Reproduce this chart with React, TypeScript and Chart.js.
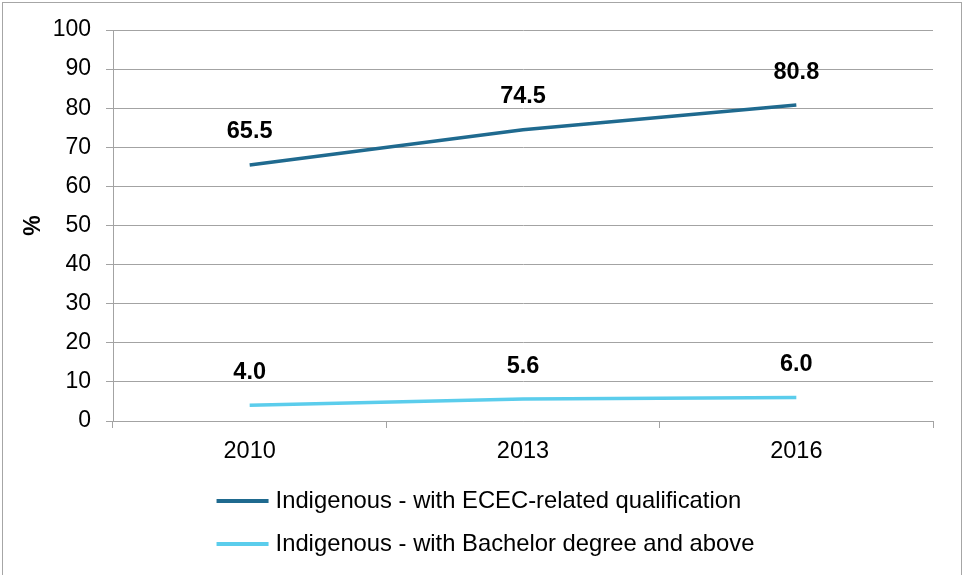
import React, { useEffect, useRef } from "react";
import { Chart, registerables } from "chart.js";

Chart.register(...registerables);

// Survey years on the category axis
const years = ["2010", "2013", "2016"];

// Share of Indigenous ECEC workers (%)
const ececQualified = [65.5, 74.5, 80.8];
const bachelorAndAbove = [4.0, 5.6, 6.0];

const seriesNames = [
  "Indigenous - with ECEC-related qualification",
  "Indigenous - with Bachelor degree and above",
];
const seriesColors = ["#1F6A8F", "#5BCDEC"];

const yMin = 0;
const yMax = 100;
const yStep = 10;

const FONT = "'Liberation Sans', Arial, Helvetica, sans-serif";
const GRID = "#A3A3A3";
const W = 963;
const H = 575;

// Bold value above each point
const valueLabels = {
  id: "valueLabels",
  afterDatasetsDraw(chart: any) {
    const ctx = chart.ctx;
    ctx.save();
    ctx.font = `bold 23.5px ${FONT}`;
    ctx.fillStyle = "#000";
    ctx.textAlign = "center";
    ctx.textBaseline = "middle";
    chart.data.datasets.forEach((ds: any, di: number) => {
      const meta = chart.getDatasetMeta(di);
      meta.data.forEach((pt: any, i: number) => {
        ctx.fillText(Number(ds.data[i]).toFixed(1), pt.x, pt.y - 33);
      });
    });
    ctx.restore();
  },
};

// Stacked legend below the axis, plus the outer frame
const bottomLegend = {
  id: "bottomLegend",
  afterDraw(chart: any) {
    const ctx = chart.ctx;
    const area = chart.chartArea;
    ctx.save();
    ctx.font = `23.8px ${FONT}`;
    const lineLen = 52;
    const gap = 7;
    const textW = Math.max(
      ...chart.data.datasets.map((d: any) => ctx.measureText(d.label).width)
    );
    const blockW = lineLen + gap + textW;
    const left = (chart.width - blockW) / 2 + 4;
    chart.data.datasets.forEach((d: any, i: number) => {
      const y = area.bottom + 80 + i * 43;
      ctx.strokeStyle = d.borderColor;
      ctx.lineWidth = 4;
      ctx.lineCap = "butt";
      ctx.beginPath();
      ctx.moveTo(left, y);
      ctx.lineTo(left + lineLen, y);
      ctx.stroke();
      ctx.fillStyle = "#000";
      ctx.textAlign = "left";
      ctx.textBaseline = "middle";
      ctx.fillText(d.label, left + lineLen + gap, y);
    });
    ctx.strokeStyle = "#A6A6A6";
    ctx.lineWidth = 1;
    ctx.strokeRect(2.5, 2.5, chart.width - 4, chart.height + 10);
    ctx.restore();
  },
};

export default function App() {
  const canvasRef = useRef<HTMLCanvasElement | null>(null);

  useEffect(() => {
    document.body.style.margin = "0";
    const canvas = canvasRef.current;
    if (!canvas) return;
    const chart = new Chart(canvas, {
      type: "line",
      data: {
        labels: years,
        datasets: [
          {
            label: seriesNames[0],
            data: ececQualified,
            borderColor: seriesColors[0],
            backgroundColor: seriesColors[0],
            borderWidth: 3.5,
            pointRadius: 0,
            tension: 0,
          },
          {
            label: seriesNames[1],
            data: bachelorAndAbove,
            borderColor: seriesColors[1],
            backgroundColor: seriesColors[1],
            borderWidth: 3.5,
            pointRadius: 0,
            tension: 0,
          },
        ],
      },
      options: {
        responsive: false,
        animation: false,
        devicePixelRatio: 1,
        layout: { padding: { left: 0, right: 30, top: 30, bottom: 109 } },
        plugins: {
          legend: { display: false },
          tooltip: { enabled: false },
        },
        scales: {
          x: {
            offset: true,
            grid: {
              offset: true,
              drawOnChartArea: false,
              drawTicks: true,
              tickLength: 7,
              color: GRID,
            },
            border: { color: GRID, width: 1 },
            ticks: {
              color: "#000",
              padding: 9,
              font: { family: FONT, size: 23.5 },
            },
            afterFit(scale: any) {
              scale.height = 45;
            },
          },
          y: {
            min: yMin,
            max: yMax,
            ticks: {
              stepSize: yStep,
              color: "#000",
              padding: 15,
              font: { family: FONT, size: 23 },
            },
            grid: {
              color: GRID,
              lineWidth: 1,
              drawTicks: true,
              tickLength: 7,
            },
            border: { color: GRID, width: 1 },
            title: {
              display: true,
              text: "%",
              color: "#000",
              font: { family: FONT, size: 23, weight: "bold" },
              padding: { top: 20, bottom: 0 },
            },
            afterFit(scale: any) {
              scale.width = 113;
            },
          },
        },
      },
      plugins: [valueLabels, bottomLegend],
    });
    return () => chart.destroy();
  }, []);

  return (
    <div style={{ position: "absolute", left: 0, top: 0, width: W, height: H, background: "#fff" }}>
      <canvas ref={canvasRef} width={W} height={H} style={{ display: "block" }} />
    </div>
  );
}
